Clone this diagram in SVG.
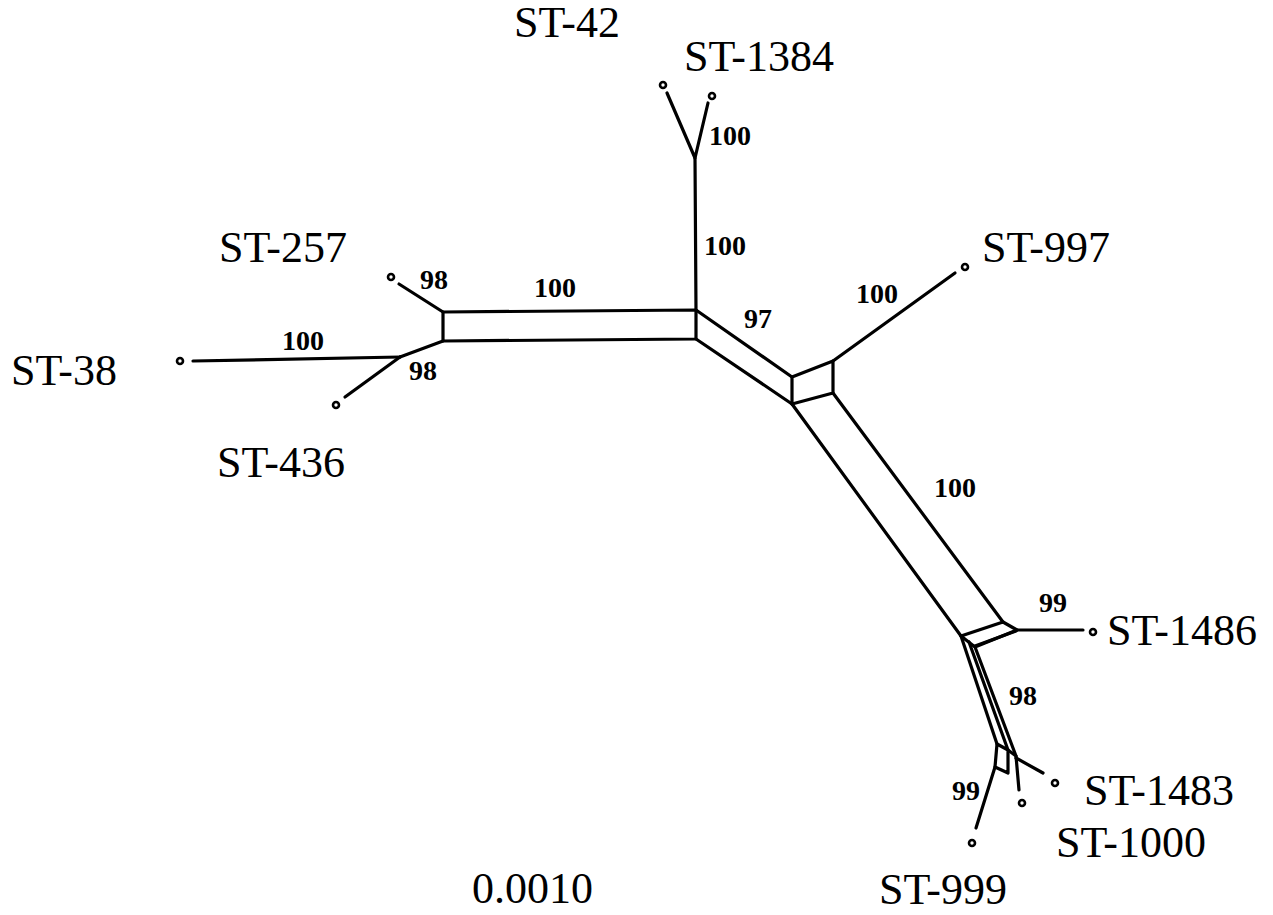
<svg xmlns="http://www.w3.org/2000/svg" width="1273" height="915" viewBox="0 0 1273 915">
  <style>
    .edge { fill: none; stroke: #000; stroke-width: 3.2; stroke-linejoin: round; stroke-linecap: round; }
    .tip { fill: #fff; stroke: #000; stroke-width: 2.6; }
    .taxon { font-family: "Liberation Serif", "Times New Roman", serif; font-size: 44px; fill: #000; }
    .support { font-family: "Liberation Serif", "Times New Roman", serif; font-size: 28px; font-weight: bold; fill: #000; }
  </style>
  <rect width="1273" height="915" fill="#fff"/>

  <!-- splits network edges -->
  <g id="connectors">
    <!-- ST-42 / ST-1384 cherry -->
    <path class="edge" d="M667 93 L695 158 L708 103"/>
    <path class="edge" d="M695 158 L696 310"/>
    <!-- left box -->
    <path class="edge" d="M443 312 L696 310 L696 339 L443 341 Z"/>
    <path class="edge" d="M443 312 L399 284"/>
    <path class="edge" d="M443 341 L400 357"/>
    <path class="edge" d="M400 357 L193 361"/>
    <path class="edge" d="M400 357 L345 397"/>
    <!-- central box -->
    <path class="edge" d="M696 310 L792 377"/>
    <path class="edge" d="M696 339 L792 404"/>
    <path class="edge" d="M792 377 L833 361 L833 393 L792 404 Z"/>
    <path class="edge" d="M833 361 L955 273"/>
    <!-- long arm -->
    <path class="edge" d="M792 404 L961 636"/>
    <path class="edge" d="M833 393 L1003 622"/>
    <path class="edge" d="M961 636 L1003 622 L1017 630 L975 647 Z"/>
    <path class="edge" d="M975 646 L1016 631" stroke-width="5"/>
    <path class="edge" d="M1017 630 L1083 630"/>
    <!-- lower cluster -->
    <path class="edge" d="M961 636 L997 744"/>
    <path class="edge" d="M969 642 L1008 750"/>
    <path class="edge" d="M975 647 L1016 756"/>
    <path class="edge" d="M997 744 L995 767 L1008 773 L1008 750 Z"/>
    <path class="edge" d="M1008 750 L1016 756 L1019 790"/>
    <path class="edge" d="M995 767 L976 828"/>
    <path class="edge" d="M1016 758 L1043 773"/>
  </g>

  <!-- taxa -->
  <g id="st-42"><circle class="tip" cx="663" cy="85" r="3"/><text class="taxon" x="514" y="37">ST-42</text></g>
  <g id="st-1384"><circle class="tip" cx="712" cy="96" r="3"/><text class="taxon" x="684" y="71">ST-1384</text></g>
  <g id="st-257"><circle class="tip" cx="391" cy="277" r="3"/><text class="taxon" x="219" y="262">ST-257</text></g>
  <g id="st-38"><circle class="tip" cx="180" cy="361" r="3"/><text class="taxon" x="11" y="385">ST-38</text></g>
  <g id="st-436"><circle class="tip" cx="336" cy="405" r="3"/><text class="taxon" x="217" y="477">ST-436</text></g>
  <g id="st-997"><circle class="tip" cx="965" cy="267" r="3"/><text class="taxon" x="982" y="262">ST-997</text></g>
  <g id="st-1486"><circle class="tip" cx="1093" cy="632" r="3"/><text class="taxon" x="1107" y="645">ST-1486</text></g>
  <g id="st-1483"><circle class="tip" cx="1055" cy="783" r="3"/><text class="taxon" x="1084" y="805">ST-1483</text></g>
  <g id="st-1000"><circle class="tip" cx="1022" cy="803" r="3"/><text class="taxon" x="1056" y="857">ST-1000</text></g>
  <g id="st-999"><circle class="tip" cx="972" cy="843" r="3"/><text class="taxon" x="879" y="904">ST-999</text></g>

  <!-- bootstrap support -->
  <g id="support-labels">
    <text class="support" x="709" y="145">100</text>
    <text class="support" x="704" y="255">100</text>
    <text class="support" x="420" y="289">98</text>
    <text class="support" x="534" y="297">100</text>
    <text class="support" x="744" y="328">97</text>
    <text class="support" x="282" y="350">100</text>
    <text class="support" x="409" y="380">98</text>
    <text class="support" x="856" y="303">100</text>
    <text class="support" x="934" y="497">100</text>
    <text class="support" x="1039" y="612">99</text>
    <text class="support" x="1009" y="705">98</text>
    <text class="support" x="952" y="800">99</text>
  </g>

  <!-- scale -->
  <g id="scale"><text class="taxon" x="472" y="903">0.0010</text></g>
</svg>
